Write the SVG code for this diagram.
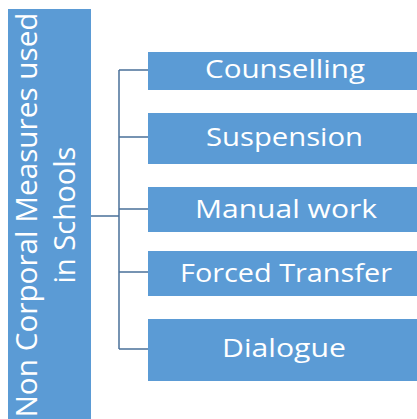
<svg xmlns="http://www.w3.org/2000/svg" width="417" height="419" viewBox="0 0 417 419">
<style>
.box{fill:#5B9BD5;}
.lbl{fill:#FFFFFF;font-family:"Open Sans","Liberation Sans",sans-serif;font-size:26px;text-anchor:middle;}
.root{fill:#FFFFFF;font-family:"Open Sans","Liberation Sans",sans-serif;font-size:28.5px;text-anchor:middle;}
.con{stroke:#4A7099;stroke-width:1.5;fill:none;}
</style>
<rect width="417" height="419" fill="#FFFFFF"/>
<g id="connectors">
<path class="con" d="M91 216H119M119 70V349M119 70H148M119 137H148M119 209H148M119 272H148M119 349H148"/>
</g>
<g id="root">
<rect class="box" x="8" y="9" width="83" height="412"/>
<g transform="translate(0,215) rotate(-90)">
<text class="root" x="0" y="37" textLength="405" lengthAdjust="spacingAndGlyphs">Non Corporal Measures used</text>
<text class="root" x="0" y="75" textLength="137" lengthAdjust="spacingAndGlyphs">in Schools</text>
</g>
</g>
<g id="n1">
<rect class="box" x="148" y="52" width="270" height="38"/>
<text class="lbl" x="285" y="78" textLength="160" lengthAdjust="spacingAndGlyphs">Counselling</text>
</g>
<g id="n2">
<rect class="box" x="148" y="113" width="270" height="51"/>
<text class="lbl" x="284.5" y="146" textLength="157" lengthAdjust="spacingAndGlyphs">Suspension</text>
</g>
<g id="n3">
<rect class="box" x="148" y="187" width="270" height="45"/>
<text class="lbl" x="286" y="218" textLength="182" lengthAdjust="spacingAndGlyphs">Manual work</text>
</g>
<g id="n4">
<rect class="box" x="148" y="251" width="270" height="45"/>
<text class="lbl" x="286" y="282" textLength="212" lengthAdjust="spacingAndGlyphs">Forced Transfer</text>
</g>
<g id="n5">
<rect class="box" x="148" y="319" width="270" height="62"/>
<text class="lbl" x="284" y="357" textLength="124" lengthAdjust="spacingAndGlyphs">Dialogue</text>
</g>
</svg>
